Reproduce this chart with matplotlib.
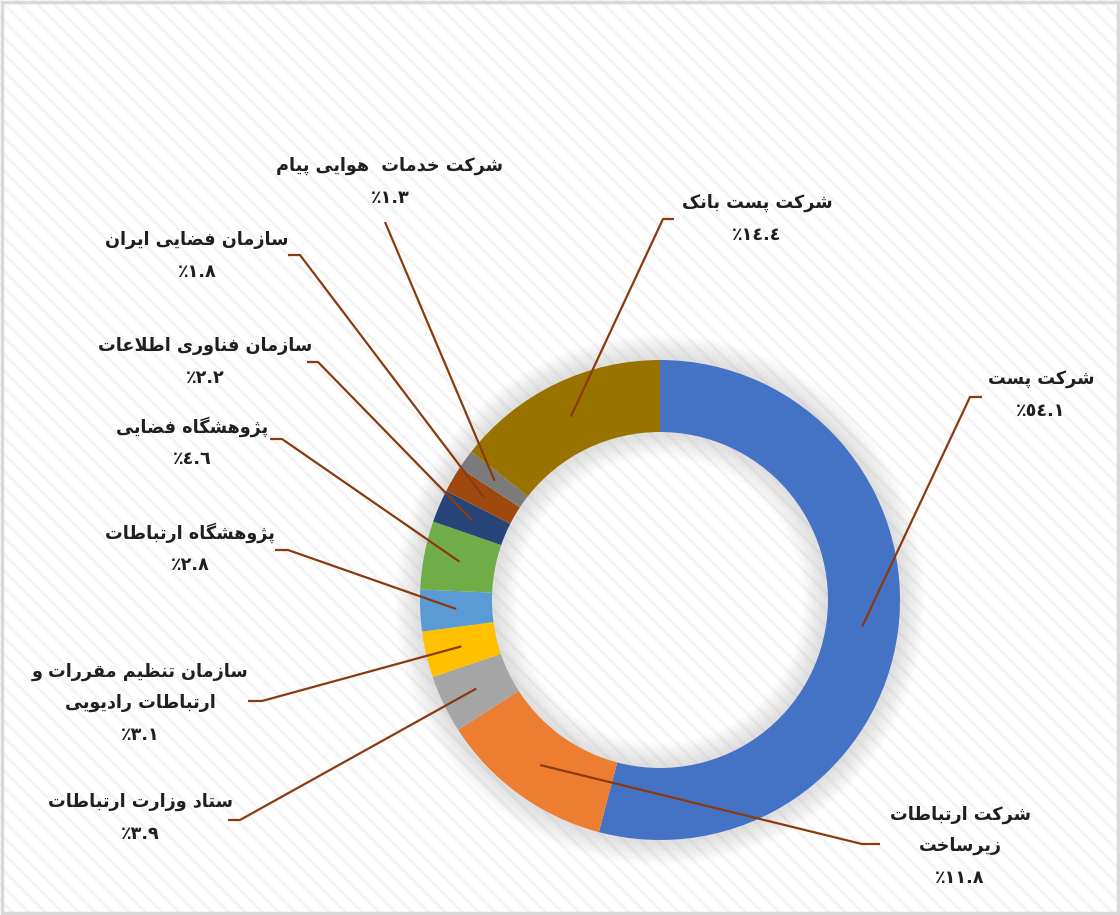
import numpy as np
import matplotlib.pyplot as plt
from matplotlib.patches import Rectangle, Wedge

# data (logical Persian text, percent shares)
labels = [
    'شرکت پست',
    'شرکت ارتباطات\nزیرساخت',
    'ستاد وزارت ارتباطات',
    'سازمان تنظیم مقررات و\nارتباطات رادیویی',
    'پژوهشگاه ارتباطات',
    'پژوهشگاه فضایی',
    'سازمان فناوری اطلاعات',
    'سازمان فضایی ایران',
    'شرکت خدمات  هوایی پیام',
    'شرکت پست بانک',
]
values = [54.1, 11.8, 3.9, 3.1, 2.8, 4.6, 2.2, 1.8, 1.3, 14.4]
colors = ['#4472C4', '#ED7D31', '#A5A5A5', '#FFC000', '#5B9BD5',
          '#70AD47', '#264478', '#9E480E', '#7B7B7B', '#997300']

# label block centres and leader starts (pixels, y down)
label_pos = [(1041, 395), (960, 846), (140, 818), (140, 703), (190, 548),
             (192, 442), (205, 362), (197, 256), (390, 182), (757, 219)]
leader_start = [(982, 397), (880, 844), (228, 820), (248, 701), (275, 550),
                (270, 439), (307, 362), (288, 255), (385, 222), (674, 219)]
leader_knee = [(970, 397), (862, 844), (240, 820), (262, 701), (288, 550),
               (282, 439), (318, 362), (300, 255), (385, 222), (663, 219)]

CX, CY = 660, 600
R_OUT, RING_W = 240, 72

# --- minimal arabic shaping for matplotlib (no bidi support there) ---
FORMS = {
    'ا': ('\uFE8D', '\uFE8E'), 'د': ('\uFEA9', '\uFEAA'),
    'ر': ('\uFEAD', '\uFEAE'), 'ز': ('\uFEAF', '\uFEB0'),
    'ژ': ('\uFB8A', '\uFB8B'), 'و': ('\uFEED', '\uFEEE'),
    'ب': ('\uFE8F', '\uFE90', '\uFE91', '\uFE92'),
    'پ': ('\uFB56', '\uFB57', '\uFB58', '\uFB59'),
    'ت': ('\uFE95', '\uFE96', '\uFE97', '\uFE98'),
    'خ': ('\uFEA5', '\uFEA6', '\uFEA7', '\uFEA8'),
    'س': ('\uFEB1', '\uFEB2', '\uFEB3', '\uFEB4'),
    'ش': ('\uFEB5', '\uFEB6', '\uFEB7', '\uFEB8'),
    'ض': ('\uFEBD', '\uFEBE', '\uFEBF', '\uFEC0'),
    'ط': ('\uFEC1', '\uFEC2', '\uFEC3', '\uFEC4'),
    'ظ': ('\uFEC5', '\uFEC6', '\uFEC7', '\uFEC8'),
    'ع': ('\uFEC9', '\uFECA', '\uFECB', '\uFECC'),
    'ف': ('\uFED1', '\uFED2', '\uFED3', '\uFED4'),
    'ق': ('\uFED5', '\uFED6', '\uFED7', '\uFED8'),
    'ک': ('\uFB8E', '\uFB8F', '\uFB90', '\uFB91'),
    'گ': ('\uFB92', '\uFB93', '\uFB94', '\uFB95'),
    'ل': ('\uFEDD', '\uFEDE', '\uFEDF', '\uFEE0'),
    'م': ('\uFEE1', '\uFEE2', '\uFEE3', '\uFEE4'),
    'ن': ('\uFEE5', '\uFEE6', '\uFEE7', '\uFEE8'),
    'ه': ('\uFEE9', '\uFEEA', '\uFEEB', '\uFEEC'),
    'ی': ('\uFBFC', '\uFBFD', '\uFBFE', '\uFBFF'),
}


def shape_line(s):
    s = s.replace('ك', 'ک').replace('ي', 'ی')
    out = []
    prev_joins = False
    i = 0
    while i < len(s):
        c = s[i]
        if c not in FORMS:
            out.append(c)
            prev_joins = False
            i += 1
            continue
        if c == 'ل' and i + 1 < len(s) and s[i + 1] == 'ا':
            out.append('\uFEFC' if prev_joins else '\uFEFB')
            prev_joins = False
            i += 2
            continue
        f = FORMS[c]
        nxt = s[i + 1] if i + 1 < len(s) else None
        next_ok = len(f) == 4 and nxt in FORMS
        if prev_joins and next_ok:
            g = f[3]
        elif prev_joins:
            g = f[1]
        elif next_ok:
            g = f[2]
        else:
            g = f[0]
        out.append(g)
        prev_joins = len(f) == 4
        i += 1
    return ''.join(out)[::-1]


def shape(s):
    return '\n'.join(shape_line(l) for l in s.split('\n'))


def fa_pct(v):
    digits = str.maketrans('0123456789', '٠١٢٣٤٥٦٧٨٩')
    return '٪' + f'{v:.1f}'.translate(digits)


plt.rcParams['font.family'] = ['DejaVu Sans']

fig = plt.figure(figsize=(11.2, 9.15), dpi=100)
ax = fig.add_axes([0, 0, 1, 1])

# background with diagonal pattern
plt.rcParams['hatch.linewidth'] = 2.0
ax.add_patch(Rectangle((0, 0), 1120, 915, facecolor='white', edgecolor='#F4F4F4',
                       hatch='\\\\', linewidth=0, zorder=0))

# soft shadow around ring
for k in range(8):
    ax.add_patch(Wedge((CX, CY), R_OUT + 4 + 3 * k, 0, 360,
                       width=RING_W + 8 + 6 * k, facecolor='#9A9A9A',
                       edgecolor='none', alpha=0.04, zorder=1))

wedges, _ = ax.pie(values, colors=colors, startangle=-90, counterclock=True,
                   radius=R_OUT, center=(CX, CY),
                   wedgeprops=dict(width=RING_W, edgecolor='none'))
for w in wedges:
    w.set_zorder(2)

r_mid = R_OUT - RING_W / 2
for i, w in enumerate(wedges):
    ang = np.deg2rad((w.theta1 + w.theta2) / 2)
    px = CX + r_mid * np.cos(ang)
    py = CY + r_mid * np.sin(ang)
    sx, sy = leader_start[i]
    kx, ky = leader_knee[i]
    ax.plot([sx, kx, px], [sy, ky, py], color='#8A3B0E', lw=1.6, zorder=5,
            solid_capstyle='butt')
    lx, ly = label_pos[i]
    txt = shape(labels[i]) + '\n' + fa_pct(values[i])
    ax.text(lx, ly, txt, ha='center', va='center', fontsize=12.7,
            fontweight='bold', color='#1F1F1F', linespacing=1.95, zorder=6)

ax.add_patch(Rectangle((2, 2), 1116, 911, fill=False, edgecolor='#D9D9D9',
                       linewidth=2.5, zorder=7))

ax.set_xlim(0, 1120)
ax.set_ylim(915, 0)
ax.set_aspect('equal')
ax.axis('off')

fig.savefig('out.png', dpi=100)
